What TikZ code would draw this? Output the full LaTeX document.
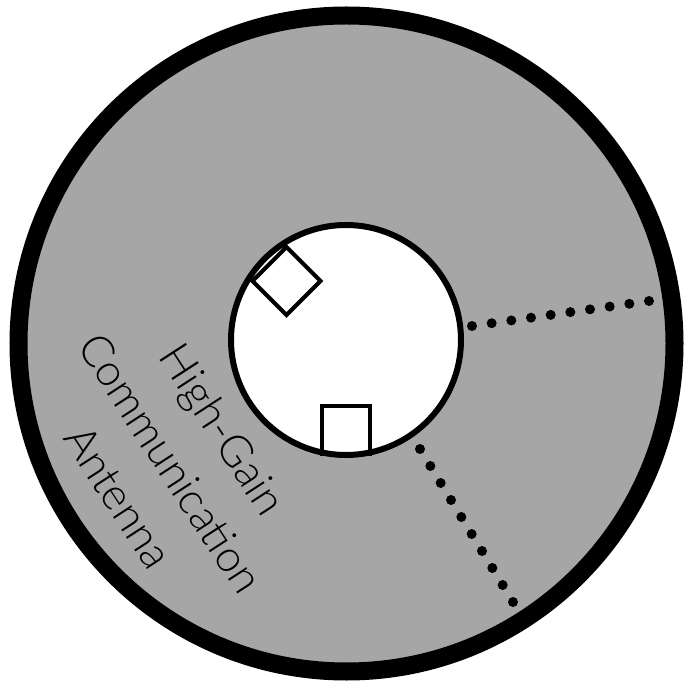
\documentclass[tikz,border=0pt]{standalone}
\usepackage{fontspec}
\setmainfont{Lato Light}
\usetikzlibrary{calc}
\definecolor{ringgray}{RGB}{166,166,166}
\begin{document}
\begin{tikzpicture}[x=1pt,y=-1pt,
  sensor/.style={draw=black,fill=white,line width=4pt,rectangle,minimum size=48pt,inner sep=0pt},
  dotfill/.style={fill=black},
  label/.style={align=center,font=\fontsize{44}{62}\selectfont,rotate=-57,inner sep=0pt}]
\useasboundingbox (0,0) rectangle (699,684);
\coordinate (oc) at (346.5,343.5);
\coordinate (ic) at (346,340);
\fill[ringgray] (oc) circle (328pt);
\draw[line width=18pt] (oc) circle (328pt);
\fill[white] (ic) circle (115pt);
\node[sensor,rotate=45] (s1) at (286.5,281) {};
\node[sensor] (s2) at (346,430) {};
\draw[line width=6pt] (ic) circle (115pt);
\coordinate (d1a) at (472,326);
\coordinate (d1b) at (649,301);
\coordinate (d2a) at (420,449);
\coordinate (d2b) at (513,602);
\foreach \t in {0,...,9} {
  \fill[dotfill] ($(d1a)!\t/9!(d1b)$) circle (5pt);
  \fill[dotfill] ($(d2a)!\t/9!(d2b)$) circle (5pt);
}
\node[label] (lbl) at (171,463) {High-Gain\\Communication\\Antenna};
\end{tikzpicture}
\end{document}
